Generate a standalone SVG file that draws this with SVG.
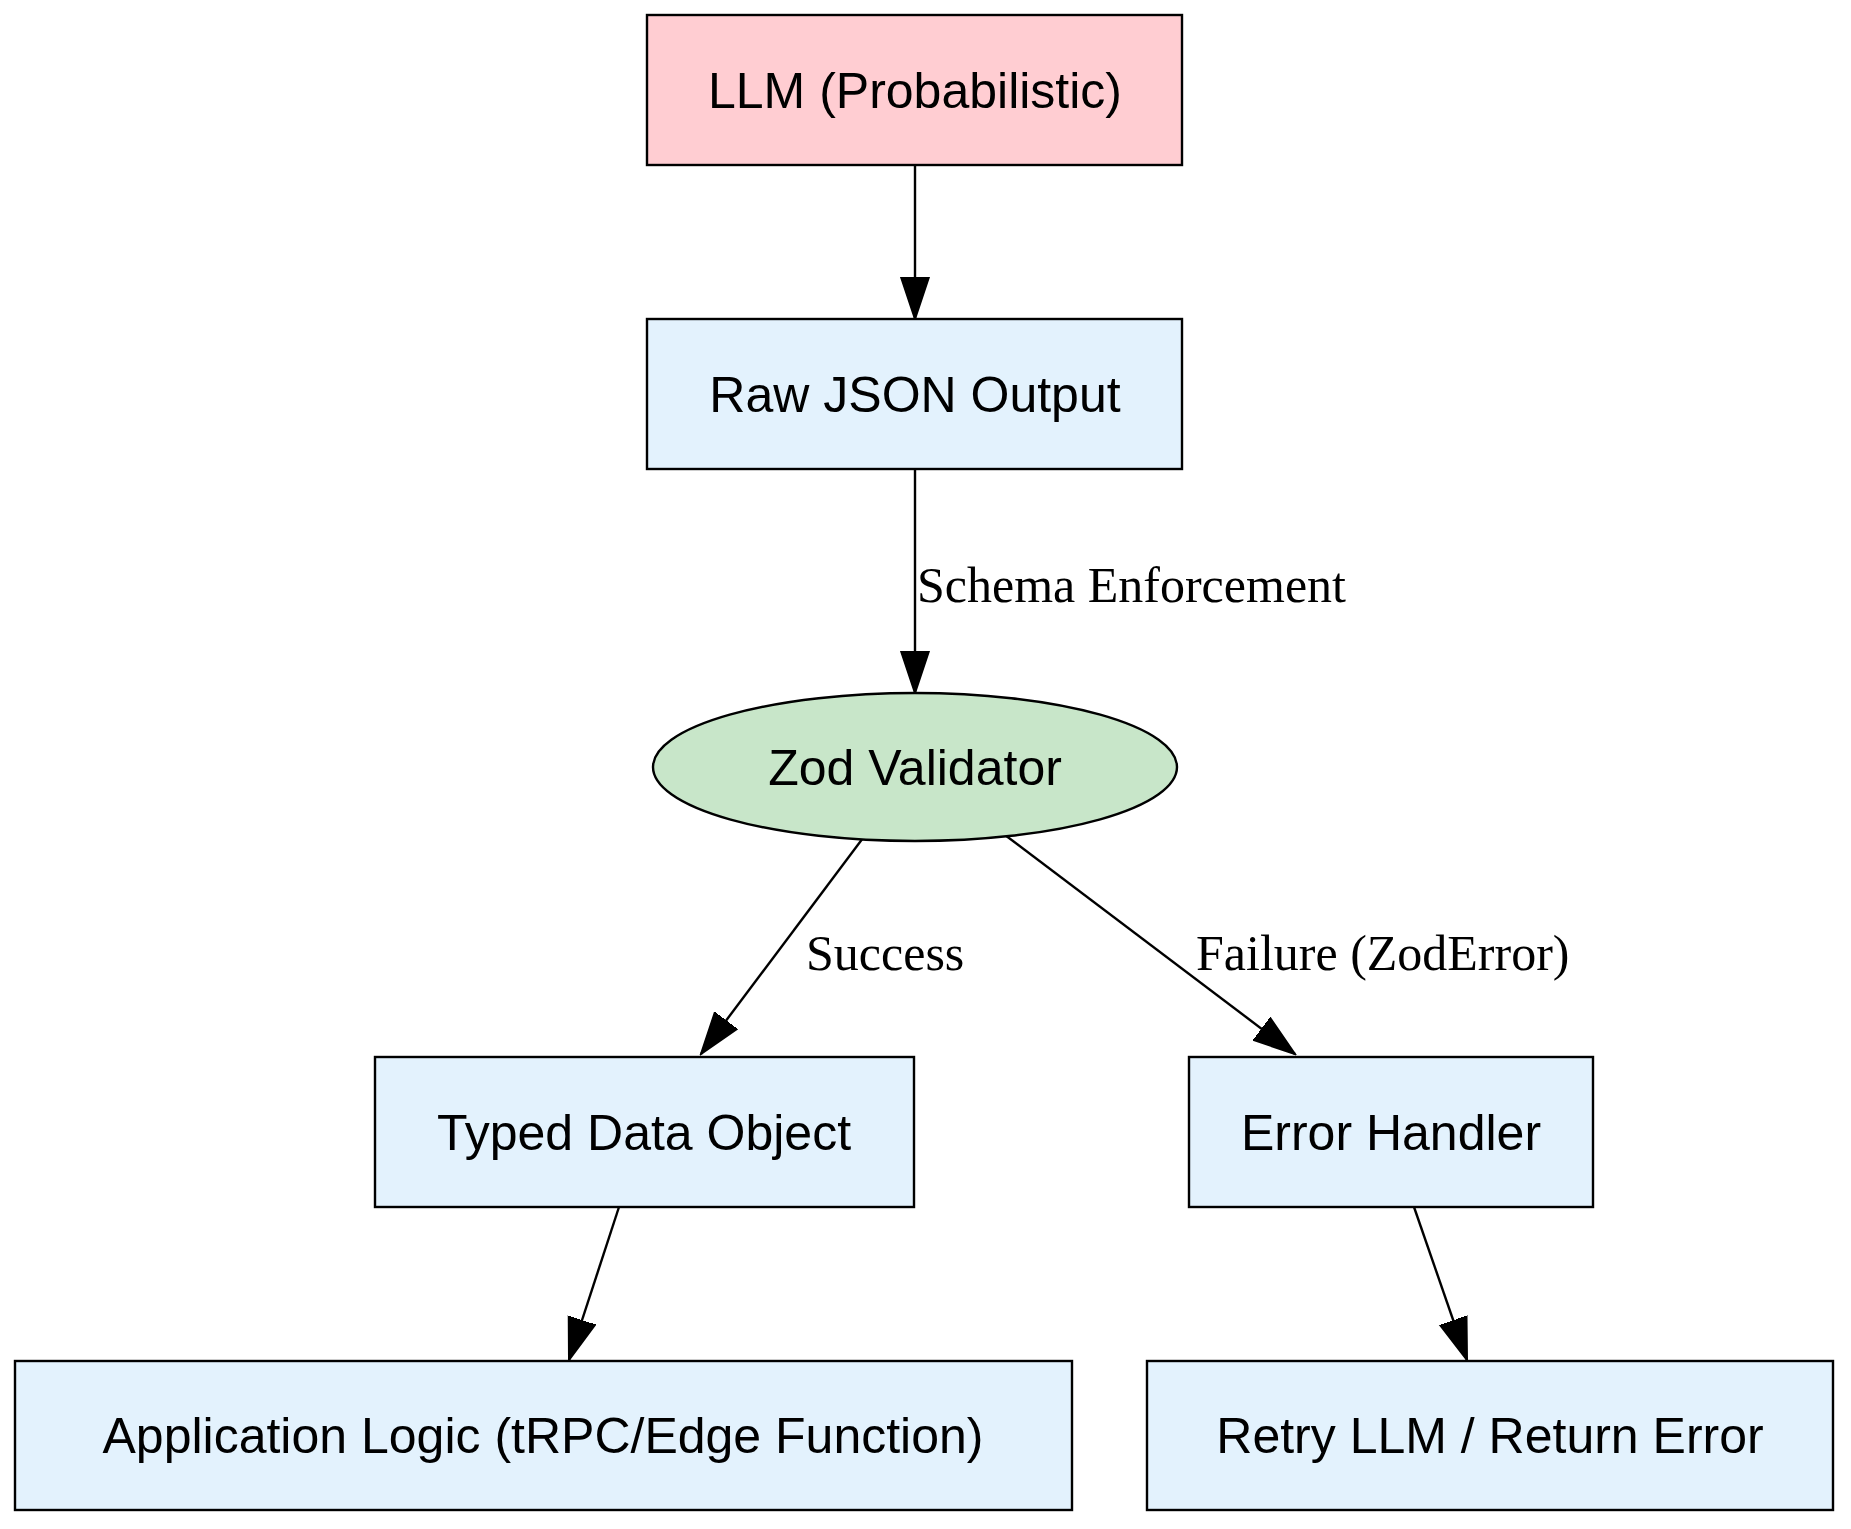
<svg xmlns="http://www.w3.org/2000/svg" width="1851" height="1529" viewBox="0 0 1851 1529">
<style>
.n{stroke:#000;stroke-width:2.4}
.b{fill:#e3f2fd}
.t{font-family:"Liberation Sans",Arial,sans-serif;font-size:50px;text-anchor:middle}
.l{font-family:"Liberation Serif","Times New Roman",serif;font-size:50px}
.e{stroke:#000;stroke-width:2.4;fill:none;marker-end:url(#a)}
</style>
<defs><marker id="a" markerUnits="userSpaceOnUse" markerWidth="44" markerHeight="34" refX="42" refY="17" orient="auto"><path d="M0,3 L42,17 L0,31 Z" fill="#000" stroke="#000" stroke-width="2"/></marker></defs>
<rect width="1851" height="1529" fill="#fff"/>
<g id="connectors">
<line class="e" x1="915" y1="165" x2="915" y2="319"/>
<line class="e" x1="915" y1="469" x2="915" y2="693"/>
<line class="e" x1="863" y1="838" x2="701" y2="1054"/>
<line class="e" x1="1001" y1="832" x2="1295" y2="1054"/>
<line class="e" x1="619" y1="1207" x2="569" y2="1360"/>
<line class="e" x1="1414" y1="1207" x2="1467" y2="1360"/>
<text class="l" x="917" y="602">Schema Enforcement</text>
<text class="l" x="806" y="970">Success</text>
<text class="l" x="1196" y="970">Failure (ZodError)</text>
</g>
<g id="llm"><rect class="n" x="647" y="15" width="535" height="150" fill="#ffcdd2"/><text class="t" x="915" y="108">LLM (Probabilistic)</text></g>
<g id="raw"><rect class="n b" x="647" y="319" width="535" height="150"/><text class="t" x="915" y="412">Raw JSON Output</text></g>
<g id="zod"><ellipse class="n" cx="915" cy="767" rx="262" ry="74" fill="#c8e6c9"/><text class="t" x="915" y="785">Zod Validator</text></g>
<g id="typed"><rect class="n b" x="375" y="1057" width="539" height="150"/><text class="t" x="644" y="1150">Typed Data Object</text></g>
<g id="error"><rect class="n b" x="1189" y="1057" width="404" height="150"/><text class="t" x="1391" y="1150">Error Handler</text></g>
<g id="app"><rect class="n b" x="15" y="1361" width="1057" height="149"/><text class="t" x="543" y="1453">Application Logic (tRPC/Edge Function)</text></g>
<g id="retry"><rect class="n b" x="1147" y="1361" width="686" height="149"/><text class="t" x="1490" y="1453">Retry LLM / Return Error</text></g>
</svg>
